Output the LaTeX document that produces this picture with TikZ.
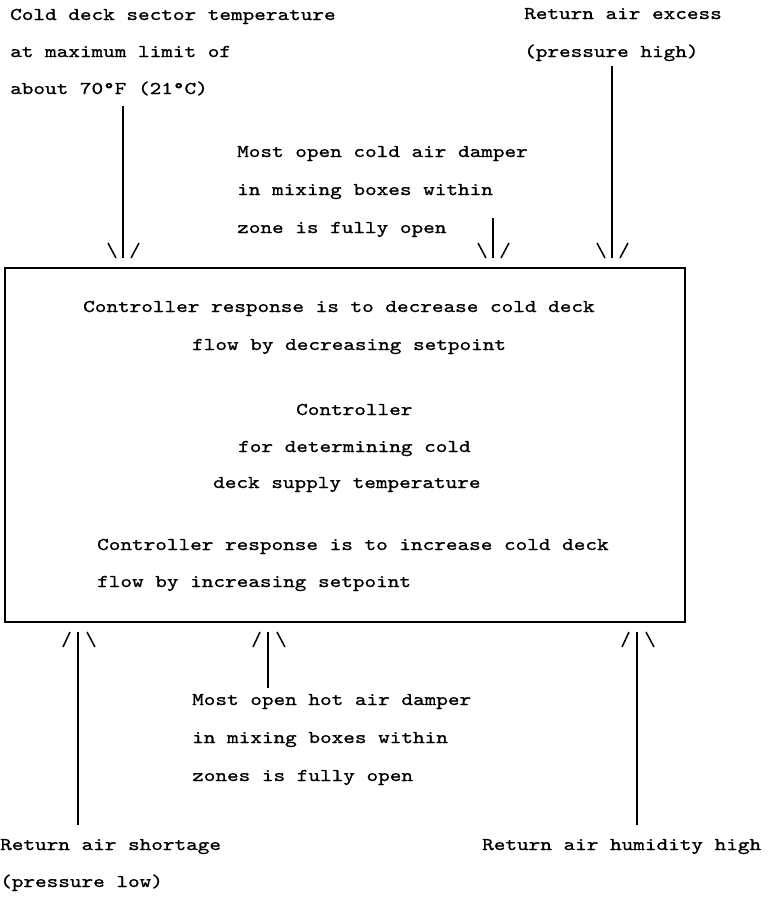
\documentclass[tikz,border=0pt]{standalone}
\usepackage{fontspec}
\newfontfamily\typer{lmmono10-regular.otf}[FakeStretch=1.23,FakeBold=1]
\usetikzlibrary{calc}
\begin{document}
\begin{tikzpicture}[x=1pt,y=-1pt,
  txt/.style={anchor=base west,inner sep=0pt,font=\typer\fontsize{18}{20}\selectfont},
  ctxt/.style={txt,anchor=base},
  boxframe/.style={draw,line width=1.6pt,inner sep=0pt,outer sep=0pt,
    minimum width=680pt,minimum height=354pt,anchor=north west},
  conn/.style={line width=1.3pt},
  slash/.style={line width=1.5pt},
  headdown/.pic={\draw[slash] (-15,-15) -- (-7,0); \draw[slash] (16,-15) -- (8,0);},
  headup/.pic={\draw[slash] (-15,15) -- (-8,0); \draw[slash] (17,15) -- (9,0);}
]
\useasboundingbox (0,0) rectangle (768,906);

% controller box
\node[boxframe] (box) at (5,268) {};

% text inside the controller box
\node[txt] (b1) at (83,312) {Controller response is to decrease cold deck};
\node[txt] (b2) at (192,350) {flow by decreasing setpoint};
\node[txt] (b3) at (296,415) {Controller};
\node[txt] (b4) at (238,452) {for determining cold};
\node[txt] (b5) at (213,488) {deck supply temperature};
\node[txt] (b6) at (97,550) {Controller response is to increase cold deck};
\node[txt] (b7) at (97,587) {flow by increasing setpoint};

% inputs above the box
\node[txt] (ca1) at (10,20) {Cold deck sector temperature};
\node[txt] (ca2) at (10,57) {at maximum limit of};
\node[txt] (ca3) at (10,94) {about 70°F (21°C)};

\node[txt] (ex1) at (524,19) {Return air excess};
\node[txt] (ex2) at (524,57) {(pressure high)};

\node[txt] (cd1) at (237,157) {Most open cold air damper};
\node[txt] (cd2) at (237,195) {in mixing boxes within};
\node[txt] (cd3) at (237,233) {zone is fully open};

% inputs below the box
\node[txt] (hd1) at (192,705) {Most open hot air damper};
\node[txt] (hd2) at (192,743) {in mixing boxes within};
\node[txt] (hd3) at (192,781) {zones is fully open};

\node[txt] (sh1) at (0,850) {Return air shortage};
\node[txt] (sh2) at (0,887) {(pressure low)};

\node[txt] (hu1) at (482,850) {Return air humidity high};

% free ends of the signal lines
\coordinate (sA) at (123,106);
\coordinate (sB) at (493,218);
\coordinate (sC) at (612,66);
\coordinate (sD) at (78,825);
\coordinate (sE) at (268,688);
\coordinate (sF) at (637,825);

% heads, kept clear of the box edge
\coordinate (hA) at ($(sA |- box.north)+(0,-10)$);
\coordinate (hB) at ($(sB |- box.north)+(0,-10)$);
\coordinate (hC) at ($(sC |- box.north)+(0,-10)$);
\coordinate (hD) at ($(sD |- box.south)+(0,10)$);
\coordinate (hE) at ($(sE |- box.south)+(0,10)$);
\coordinate (hF) at ($(sF |- box.south)+(0,10)$);

\draw[conn] (sA) -- (hA);
\draw[conn] (sB) -- (hB);
\draw[conn] (sC) -- (hC);
\draw[conn] (sD) -- (hD);
\draw[conn] (sE) -- (hE);
\draw[conn] (sF) -- (hF);

\pic at (hA) {headdown};
\pic at (hB) {headdown};
\pic at (hC) {headdown};
\pic at (hD) {headup};
\pic at (hE) {headup};
\pic at (hF) {headup};
\end{tikzpicture}
\end{document}
